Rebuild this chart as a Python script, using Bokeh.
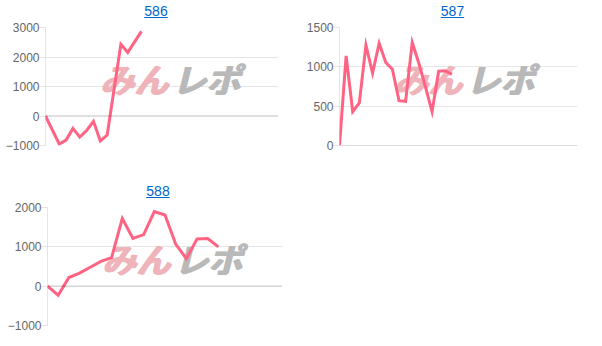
from bokeh.plotting import figure
from bokeh.models import Div, FixedTicker, Span, Label, Range1d
from bokeh.layouts import column, row
from bokeh.embed import file_html
from bokeh.resources import INLINE

# ---- data ----
titles = ["586", "587", "588"]

x586 = [0, 2, 3, 4, 5, 6, 7, 8, 9, 11, 12, 14]
y586 = [0, -950, -815, -420, -715, -490, -180, -845, -645, 2430, 2155, 2870]

x587 = list(range(18))
y587 = [0, 1140, 430, 540, 1275, 920, 1300, 1055, 970, 570, 560, 1310,
        1045, 745, 430, 945, 950, 905]

x588 = list(range(17))
y588 = [0, -230, 220, 330, 480, 630, 725, 1720, 1215, 1310, 1895, 1810,
        1070, 700, 1200, 1210, 1000]

# category slots on the hidden x axis of each chart
slots = [34, 36, 22]

ticks586 = [-1000, 0, 1000, 2000, 3000]
ticks587 = [0, 500, 1000, 1500]
ticks588 = [-1000, 0, 1000, 2000]

LINE = "#ff6384"
GRID = "rgba(0,0,0,0.1)"
ZERO = "rgba(0,0,0,0.25)"
FONT = "Liberation Sans"


def make_chart(title, xs, ys, x_end, ticks, w, h, bl, br, bt, bb, title_w):
    div = Div(
        text=(f'<div style="width:{title_w}px;text-align:center;'
              f'font-family:\'Liberation Sans\',Arial,sans-serif;font-size:14px;'
              f'line-height:22px;"><a href="#" style="color:#0066cc;'
              f'text-decoration:underline;">{title}</a></div>'),
        width=w, height=22, margin=0)

    p = figure(width=w, height=h, output_backend="svg", toolbar_location=None,
               x_range=Range1d(0, x_end), y_range=Range1d(ticks[0], ticks[-1]),
               x_axis_location=None, min_border_left=bl, min_border_right=br,
               min_border_top=bt, min_border_bottom=bb, margin=0)
    p.outline_line_color = None
    p.xgrid.visible = False
    p.background_fill_color = "white"
    p.border_fill_color = "white"

    ax = p.yaxis[0]
    ax.ticker = FixedTicker(ticks=ticks)
    ax.minor_tick_line_color = None
    ax.major_tick_in = 0
    ax.major_tick_out = 6
    ax.major_tick_line_color = GRID
    ax.axis_line_color = GRID
    ax.major_label_standoff = 0
    ax.major_label_text_font = FONT
    ax.major_label_text_font_size = "12px"
    ax.major_label_text_color = "#666666"

    p.ygrid.ticker = FixedTicker(ticks=[t for t in ticks if t != 0])
    p.ygrid.grid_line_color = GRID
    p.add_layout(Span(location=0, dimension="width", line_color=ZERO, line_width=1))

    # watermark (drawn under the line, faux-bold by small offsets)
    frame_w = w - bl - br
    frame_h = h - bt - bb
    yspan = ticks[-1] - ticks[0]
    wy = ticks[-1] - yspan * 51.0 / frame_h
    for txt, off, col in (("みん", 54.0, "#efb4ba"), ("レポ", 126.0, "#b9b9b9")):
        for dx in (0, 1, 2):
            p.add_layout(Label(x=x_end * off / frame_w, y=wy, text=txt,
                               x_offset=dx,
                               text_font="Noto Sans CJK JP", text_font_size="34px",
                               text_font_style="bold italic", text_color=col,
                               text_baseline="middle", text_align="left",
                               level="underlay"))

    p.line(xs, ys, line_color=LINE, line_width=3, line_join="miter")
    return column(div, p, spacing=0, margin=0)


c1 = make_chart(titles[0], x586, y586, slots[0], ticks586, 300, 158, 45, 22, 5, 35, 312)
c2 = make_chart(titles[1], x587, y587, slots[1], ticks587, 302, 158, 39, 25, 5, 35, 305)
c3 = make_chart(titles[2], x588, y588, slots[2], ticks588, 300, 144, 47, 18, 5, 21, 316)

layout = column(row(c1, c2, spacing=0, margin=0), row(c3, spacing=0, margin=0),
                spacing=0, margin=0)

open("out.html", "w").write(file_html(layout, INLINE))
